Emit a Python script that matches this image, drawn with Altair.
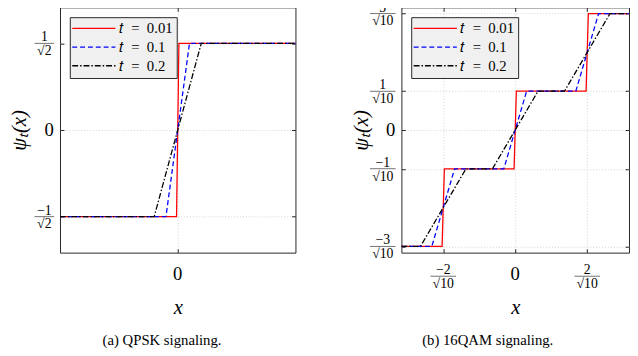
import altair as alt
import pandas as pd

# ---------------- data ----------------
series = ["𝑡\u2002=\u20020.01", "𝑡\u2002=\u20020.1", "𝑡\u2002=\u20020.2"]
colors = ["#ff0000", "#0000ff", "#000000"]
dashes = [[1, 0], [5, 3], [6, 2, 1.5, 2]]

# (a) QPSK: breakpoints of each curve
qpsk_x_t001 = [-1.0, -0.01, 0.01, 1.0]
qpsk_x_t01 = [-1.0, -0.1, 0.1, 1.0]
qpsk_x_t02 = [-1.0, -0.2, 0.2, 1.0]
qpsk_y = [-0.7071, -0.7071, 0.7071, 0.7071]

# (b) 16QAM: breakpoints of each curve
qam_x_t001 = [-1.0, -0.6425, -0.6225, -0.01, 0.01, 0.6225, 0.6425, 1.0]
qam_x_t01 = [-1.0, -0.7325, -0.5325, -0.1, 0.1, 0.5325, 0.7325, 1.0]
qam_x_t02 = [-1.0, -0.8325, -0.4325, -0.2, 0.2, 0.4325, 0.8325, 1.0]
qam_y = [-0.9487, -0.9487, -0.3162, -0.3162, 0.3162, 0.3162, 0.9487, 0.9487]

# tick values and labels
qpsk_xticks = [0.0]
qpsk_yticks = [-0.7071, 0.0, 0.7071]
qpsk_yfrac_vals = [0.7071, -0.7071]
qpsk_yfrac_num = ["1", "−1"]
qpsk_yfrac_den = ["√2", "√2"]

qam_xticks = [-0.6325, 0.0, 0.6325]
qam_yticks = [-0.9487, -0.3162, 0.0, 0.3162, 0.9487]
qam_yfrac_vals = [0.9487, 0.3162, -0.3162, -0.9487]
qam_yfrac_num = ["3", "1", "−1", "−3"]
qam_yfrac_den = ["√10", "√10", "√10", "√10"]
qam_xfrac_vals = [-0.6325, 0.6325]
qam_xfrac_num = ["−2", "2"]
qam_xfrac_den = ["√10", "√10"]

MATH = "Liberation Serif"
FRAME = "#262626"


def lines_df(xs_list, ys_list):
    rows = []
    for s, xs, ys in zip(series, xs_list, ys_list):
        for x, y in zip(xs, ys):
            rows.append({"series": s, "x": x, "y": y})
    return pd.DataFrame(rows)


def panel(df, W, H, xticks, yticks, yfrac, xfrac, yfx, ybar, caption, cap_dx):
    xs = alt.Scale(domain=[-1, 1], nice=False, zero=False)
    ys = alt.Scale(domain=[-1, 1], nice=False, zero=False)
    tick_common = dict(labels=False, domain=False, ticks=True, tickSize=4,
                       tickColor=FRAME, tickWidth=1, offset=-4,
                       gridColor="#c8c8c8", gridDash=[1, 2], gridWidth=0.8)
    leg = dict(orient="none", legendX=10, legendY=10, title=None,
               fillColor="#f0f0f0", strokeColor=FRAME, padding=4,
               symbolType="M-4,0H4", symbolSize=121, symbolOffset=13,
               symbolStrokeWidth=1.3, labelFont=MATH, labelFontSize=15,
               labelOffset=18, rowPadding=3, labelColor="black")
    base = alt.Chart(df)
    lines = base.mark_line(strokeWidth=1.3, clip=True).encode(
        x=alt.X("x:Q", scale=xs, axis=alt.Axis(
            orient="bottom", values=xticks, grid=True, title="x",
            titleFont=MATH, titleFontSize=21, titleFontStyle="italic",
            titleFontWeight="normal", titleColor="black",
            titleY=60, titleBaseline="middle", **tick_common)),
        y=alt.Y("y:Q", scale=ys, axis=alt.Axis(
            orient="left", values=yticks, grid=True, title="ψₜ(x)",
            titleFont=MATH, titleFontSize=21, titleFontStyle="italic",
            titleFontWeight="normal", titleColor="black",
            titleX=-45, titleBaseline="middle", **tick_common)),
        color=alt.Color("series:N", sort=series,
                        scale=alt.Scale(domain=series, range=colors),
                        legend=alt.Legend(**leg)),
        strokeDash=alt.StrokeDash("series:N", sort=series,
                                  scale=alt.Scale(domain=series, range=dashes),
                                  legend=alt.Legend(**leg)),
        detail="series:N",
    )
    mirror = base.mark_line(opacity=0).encode(
        x=alt.X("x:Q", scale=xs, axis=alt.Axis(orient="top", values=xticks,
                                               grid=False, title=None, **tick_common)),
        y=alt.Y("y:Q", scale=ys, axis=alt.Axis(orient="right", values=yticks,
                                               grid=False, title=None, **tick_common)),
    )
    layers = [lines, mirror]

    # y fraction labels
    yv, yn, yd = yfrac
    ydf = pd.DataFrame({"v": yv, "num": yn, "den": yd})
    yb = alt.Chart(ydf)
    layers.append(yb.mark_text(font=MATH, fontSize=14, align="center",
                               baseline="alphabetic", dy=-2).encode(
        y=alt.Y("v:Q", scale=ys, axis=None), x=alt.value(yfx), text="num:N"))
    layers.append(yb.mark_text(font=MATH, fontSize=14, align="center",
                               baseline="top", dy=1).encode(
        y=alt.Y("v:Q", scale=ys, axis=None), x=alt.value(yfx), text="den:N"))
    layers.append(yb.mark_tick(orient="horizontal", size=ybar, thickness=0.8,
                               color="black").encode(
        y=alt.Y("v:Q", scale=ys, axis=None), x=alt.value(yfx)))

    # plain zero labels
    zdf = pd.DataFrame({"v": [0.0], "lab": ["0"]})
    zb = alt.Chart(zdf)
    layers.append(zb.mark_text(font=MATH, fontSize=19, align="center",
                               baseline="middle").encode(
        y=alt.Y("v:Q", scale=ys, axis=None), x=alt.value(-11), text="lab:N"))
    layers.append(zb.mark_text(font=MATH, fontSize=19, align="center",
                               baseline="middle").encode(
        x=alt.X("v:Q", scale=xs, axis=None), y=alt.value(H + 21.5), text="lab:N"))

    if xfrac is not None:
        xv, xn, xd = xfrac
        xdf = pd.DataFrame({"v": xv, "num": xn, "den": xd})
        xb = alt.Chart(xdf)
        layers.append(xb.mark_text(font=MATH, fontSize=14, align="center",
                                   baseline="alphabetic", dy=-2).encode(
            x=alt.X("v:Q", scale=xs, axis=None), y=alt.value(H + 24), text="num:N"))
        layers.append(xb.mark_text(font=MATH, fontSize=14, align="center",
                                   baseline="top", dy=1).encode(
            x=alt.X("v:Q", scale=xs, axis=None), y=alt.value(H + 24), text="den:N"))
        layers.append(xb.mark_tick(orient="horizontal", size=26, thickness=0.8,
                                   color="black").encode(
            x=alt.X("v:Q", scale=xs, axis=None), y=alt.value(H + 24)))

    return alt.layer(*layers).resolve_axis(x="independent", y="independent").properties(
        width=W, height=H,
        title=alt.TitleParams(caption, orient="bottom", font="Liberation Serif",
                              fontSize=15, fontWeight="normal", color="black",
                              anchor="middle", dx=cap_dx, offset=16),
    )


left = panel(lines_df([qpsk_x_t001, qpsk_x_t01, qpsk_x_t02], [qpsk_y] * 3),
             240, 250, qpsk_xticks, qpsk_yticks,
             (qpsk_yfrac_vals, qpsk_yfrac_num, qpsk_yfrac_den), None,
             -16, 20, "(a) QPSK signaling.", -16)
right = panel(lines_df([qam_x_t001, qam_x_t01, qam_x_t02], [qam_y] * 3),
              232, 250, qam_xticks, qam_yticks,
              (qam_yfrac_vals, qam_yfrac_num, qam_yfrac_den),
              (qam_xfrac_vals, qam_xfrac_num, qam_xfrac_den),
              -19, 26, "(b) 16QAM signaling.", -28)

chart = alt.hconcat(left, right, spacing=108, bounds="flush").resolve_legend(
    color="independent", strokeDash="independent"
).resolve_scale(color="independent", strokeDash="independent").properties(
    padding={"left": 0, "top": -12, "right": 0, "bottom": 4}
).configure_view(stroke=FRAME, strokeWidth=1)

chart.save("out.html", embed_options={"renderer": "svg", "actions": False})
